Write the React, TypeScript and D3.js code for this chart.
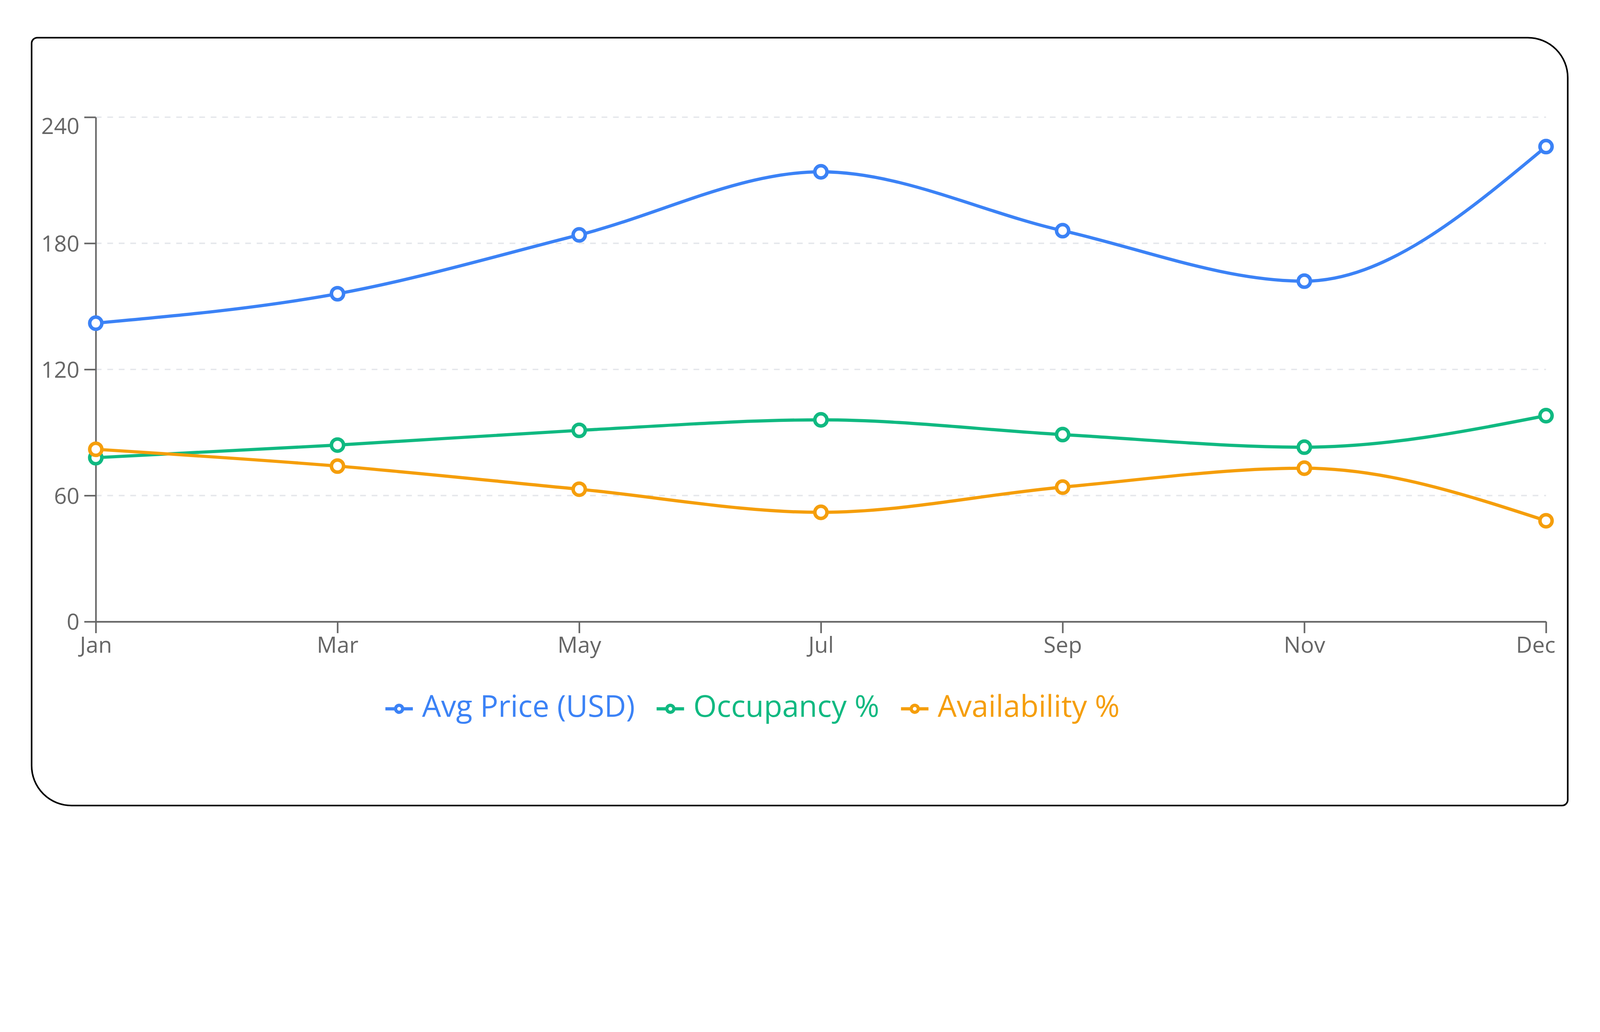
import { useEffect, useRef } from "react";
import * as d3 from "d3";

// chart values
const months = ["Jan", "Mar", "May", "Jul", "Sep", "Nov", "Dec"];
const avgPrice = [142, 156, 184, 214, 186, 162, 226];
const occupancy = [78, 84, 91, 96, 89, 83, 98];
const availability = [82, 74, 63, 52, 64, 73, 48];
const yTicks = [0, 60, 120, 180, 240];

const seriesNames = ["Avg Price (USD)", "Occupancy %", "Availability %"];
const seriesColors = ["#3b82f6", "#10b981", "#f59e0b"];

const W = 5011;
const H = 2642;
const FONT = "'Open Sans', 'Noto Sans', sans-serif";

export default function App() {
  const ref = useRef<SVGSVGElement>(null);

  useEffect(() => {
    const svg = d3.select(ref.current);
    svg.selectAll("*").remove();

    // card frame with uneven corners
    const L = 99, R = 4910, T = 118, B = 2523;
    const rs = 18, rb = 125;
    const frame = d3.path();
    frame.moveTo(L + rs, T);
    frame.lineTo(R - rb, T);
    frame.arcTo(R, T, R, T + rb, rb);
    frame.lineTo(R, B - rs);
    frame.arcTo(R, B, R - rs, B, rs);
    frame.lineTo(L + rb, B);
    frame.arcTo(L, B, L, B - rb, rb);
    frame.lineTo(L, T + rs);
    frame.arcTo(L, T, L + rs, T, rs);
    frame.closePath();
    svg.append("path")
      .attr("d", frame.toString())
      .attr("fill", "white")
      .attr("stroke", "black")
      .attr("stroke-width", 5);

    const x = d3.scalePoint<string>().domain(months).range([300, 4842]);
    const y = d3.scaleLinear().domain([0, 240]).range([1947, 367]);

    // Grid lines
    svg.append("g")
      .selectAll("line")
      .data(yTicks.filter((t) => t > 0))
      .join("line")
      .attr("x1", 300)
      .attr("x2", 4842)
      .attr("y1", (d) => y(d))
      .attr("y2", (d) => y(d))
      .attr("stroke", "#e5e7eb")
      .attr("stroke-width", 4.5)
      .attr("stroke-dasharray", "18 18");

    // Y axis
    const yAxis = svg.append("g")
      .attr("transform", "translate(300,0)")
      .call(d3.axisLeft(y).tickValues(yTicks).tickSize(36).tickSizeOuter(0).tickPadding(15));
    // X axis
    const xAxis = svg.append("g")
      .attr("transform", "translate(0,1947)")
      .call(d3.axisBottom(x).tickSize(36).tickSizeOuter(0).tickPadding(12));

    for (const ax of [yAxis, xAxis]) {
      ax.select(".domain").attr("stroke", "#666").attr("stroke-width", 5);
      ax.selectAll(".tick line").attr("stroke", "#666").attr("stroke-width", 5);
      ax.selectAll(".tick text")
        .attr("fill", "#666")
        .attr("font-family", FONT)
        .attr("font-size", 70);
    }
    // top label sits below its tick
    yAxis.selectAll<SVGTextElement, number>(".tick text")
      .attr("dy", (d) => (d === 240 ? "0.74em" : "0.36em"));
    // last month label is pulled inside the plot
    xAxis.selectAll<SVGTextElement, string>(".tick text")
      .filter((d) => d === months[months.length - 1])
      .attr("text-anchor", "end")
      .attr("dx", 29);

    // Lines and dots
    const allSeries = [avgPrice, occupancy, availability];
    const line = d3.line<number>()
      .x((_, i) => x(months[i])!)
      .y((d) => y(d))
      .curve(d3.curveMonotoneX);

    allSeries.forEach((values, s) => {
      svg.append("path")
        .datum(values)
        .attr("d", line)
        .attr("fill", "none")
        .attr("stroke", seriesColors[s])
        .attr("stroke-width", 10);
    });
    allSeries.forEach((values, s) => {
      svg.append("g")
        .selectAll("circle")
        .data(values)
        .join("circle")
        .attr("cx", (_, i) => x(months[i])!)
        .attr("cy", (d) => y(d))
        .attr("r", 19)
        .attr("fill", "white")
        .attr("stroke", seriesColors[s])
        .attr("stroke-width", 11);
    });

    // Legend
    let lx = 1207;
    const ly = 2220;
    seriesNames.forEach((name, s) => {
      const g = svg.append("g");
      g.append("line")
        .attr("x1", lx)
        .attr("x2", lx + 86)
        .attr("y1", ly)
        .attr("y2", ly)
        .attr("stroke", seriesColors[s])
        .attr("stroke-width", 10);
      g.append("circle")
        .attr("cx", lx + 43)
        .attr("cy", ly)
        .attr("r", 11)
        .attr("fill", "white")
        .attr("stroke", seriesColors[s])
        .attr("stroke-width", 10);
      const t = g.append("text")
        .text(name)
        .attr("x", lx + 115)
        .attr("y", 2245)
        .attr("fill", seriesColors[s])
        .attr("font-family", FONT)
        .attr("font-size", 94);
      const tw = (t.node() as SVGTextElement).getComputedTextLength();
      lx = lx + 115 + tw + 68;
    });
  }, []);

  return (
    <svg
      ref={ref}
      viewBox={`0 0 ${W} ${H}`}
      preserveAspectRatio="xMinYMin meet"
      style={{
        position: "absolute",
        left: 0,
        top: 0,
        width: "100vw",
        height: `calc(100vw * ${H} / ${W})`,
        display: "block",
        background: "white",
      }}
    />
  );
}
